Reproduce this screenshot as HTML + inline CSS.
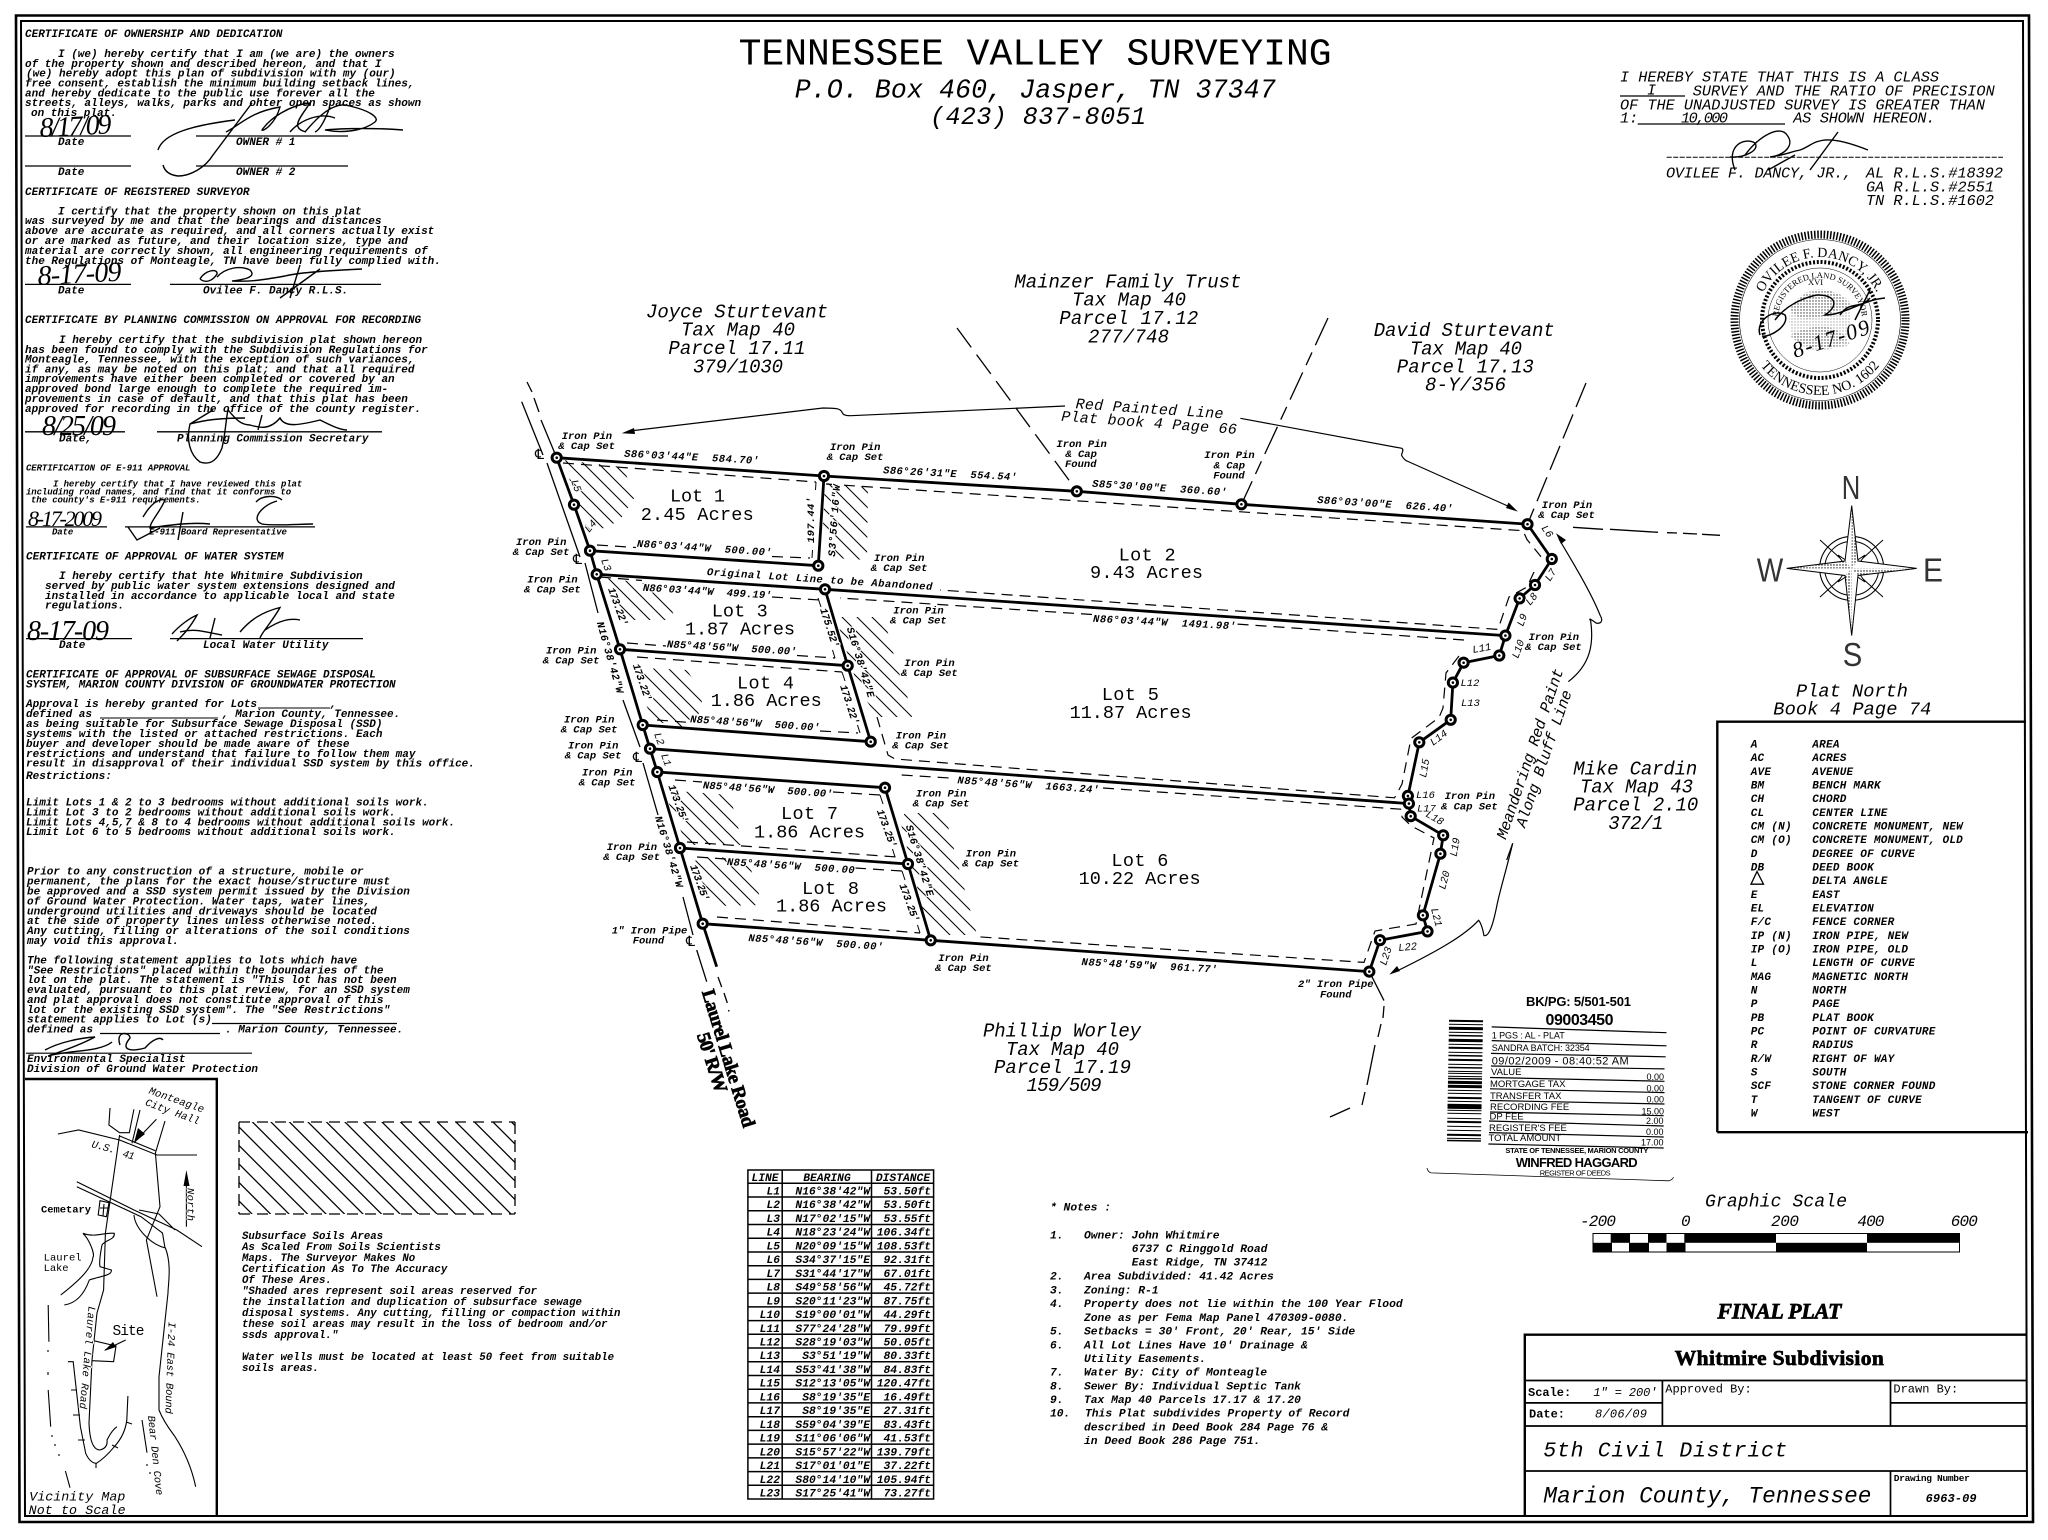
<!DOCTYPE html>
<html lang="en"><head><meta charset="utf-8"><title>Whitmire Subdivision Final Plat</title>
<style>
html,body{margin:0;padding:0;background:#fff}
svg{display:block}
text{font-family:"Liberation Mono","DejaVu Sans Mono",monospace;fill:#000;white-space:pre}
.m{font-size:11px;font-style:italic;font-weight:bold}
.s{font-size:9px;font-style:italic;font-weight:bold;letter-spacing:-.1px}
.b{font-size:10.5px;font-style:italic;font-weight:bold;paint-order:stroke;stroke:#fff;stroke-width:2.4px;stroke-linejoin:round}
.p{font-size:10.5px;font-style:italic;font-weight:bold}
.t{font-size:11.3px;font-style:italic;font-weight:bold}
.lot{font-size:18.5px}
.par{font-size:19px;font-style:italic}
.l{font-size:10.5px;font-weight:normal;font-style:italic;paint-order:stroke;stroke:#fff;stroke-width:2px;stroke-linejoin:round}
.cert{font-size:15.2px;font-style:italic}
.leg{font-size:11px;font-style:italic;font-weight:bold;letter-spacing:.25px}
.hand{font-family:"Liberation Serif",serif;font-style:italic;font-size:28px}
.sans{font-family:"Liberation Sans",sans-serif}
.ser{font-family:"Liberation Serif",serif;font-weight:bold}
.hv{stroke:#000;stroke-width:.7px}
.f{fill:none;stroke:#000}
</style></head><body>
<svg xmlns="http://www.w3.org/2000/svg" width="2048" height="1540" viewBox="0 0 2048 1540">
<defs>
<pattern id="h1" patternUnits="userSpaceOnUse" width="15" height="15"><path d="M0 0L15 15M-4 11L4 19M11 -4L19 4" stroke="#000" stroke-width="1"/></pattern>
<pattern id="h2" patternUnits="userSpaceOnUse" width="18.5" height="18.5"><path d="M0 0L18.5 18.5M-4 14.5L4 22.5M14.5 -4L22.5 4" stroke="#000" stroke-width="1.3"/></pattern>
<pattern id="st" patternUnits="userSpaceOnUse" width="3" height="3"><circle cx="1" cy="1" r=".7" fill="#000"/></pattern>
<path id="arcT" d="M1757 320A63 63 0 0 1 1883 320"/>
<path id="arcB" d="M1745 320A75 75 0 0 0 1895 320"/>
<path id="arcM" d="M1778 320A42 42 0 0 1 1862 320"/>
</defs>
<rect width="2048" height="1540" fill="#fff"/>

<!-- border -->
<path d="M16 15.5H2029L2033 1522H19.5Z" class="f" stroke-width="2.6"/>
<path d="M21 21H2023L2027 1516H25Z" class="f" stroke-width="2"/>

<!-- left certificates -->
<text class="m" x="25" y="37">CERTIFICATE OF OWNERSHIP AND DEDICATION</text>
<text class="m" x="58" y="57">I (we) hereby certify that I am (we are) the owners</text>
<text class="m" x="25" y="67">of the property shown and described hereon, and that I</text>
<text class="m" x="26" y="76.5">(we) hereby adopt this plan of subdivision with my (our)</text>
<text class="m" x="25" y="86.4">free consent, establish the minimum building setback lines,</text>
<text class="m" x="25" y="96.4">and hereby dedicate to the public use forever all the</text>
<text class="m" x="25" y="106">streets, alleys, walks, parks and ohter open spaces as shown</text>
<text class="m" x="31" y="116">on this plat.</text>
<path d="M25 136H131M196 136H348M25 166H131M196 166H348" class="f" stroke-width="1.3"/>
<text class="m" x="58" y="145">Date</text><text class="m" x="236" y="145">OWNER # 1</text>
<text class="m" x="58" y="175">Date</text><text class="m" x="236" y="175">OWNER # 2</text>
<text class="m" x="25" y="195">CERTIFICATE OF REGISTERED SURVEYOR</text>
<text class="m" x="58" y="214.5">I certify that the property shown on this plat</text>
<text class="m" x="25" y="224.2">was surveyed by me and that the bearings and distances</text>
<text class="m" x="25" y="234.2">above are accurate as required, and all corners actually exist</text>
<text class="m" x="25" y="244.1">or are marked as future, and their location size, type and</text>
<text class="m" x="25" y="254">material are correctly shown, all engineering requirements of</text>
<text class="m" x="25" y="263.8">the Regulations of Monteagle, TN have been fully complied with.</text>
<path d="M25 284.4H131M170 284.4H381" class="f" stroke-width="1.3"/>
<text class="m" x="58" y="293.4">Date</text><text class="m" x="203" y="293.4">Ovilee F. Dancy R.L.S.</text>
<text class="m" x="25" y="323">CERTIFICATE BY PLANNING COMMISSION ON APPROVAL FOR RECORDING</text>
<text class="m" x="59" y="343">I hereby certify that the subdivision plat shown hereon</text>
<text class="m" x="25" y="353">has been found to comply with the Subdivision Regulations for</text>
<text class="m" x="25" y="362.6">Monteagle, Tennessee, with the exception of such variances,</text>
<text class="m" x="25" y="372.6">if any, as may be noted on this plat; and that all required</text>
<text class="m" x="25" y="382.2">improvements have either been completed or covered by an</text>
<text class="m" x="25" y="392.2">approved bond large enough to complete the required im-</text>
<text class="m" x="25" y="402.2">provements in case of default, and that this plat has been</text>
<text class="m" x="25" y="411.8">approved for recording in the office of the county register.</text>
<path d="M25 431.8H125M157 431.8H382" class="f" stroke-width="1.3"/>
<text class="m" x="59" y="441.5">Date,</text><text class="m" x="177" y="441.5">Planning Commission Secretary</text>
<text class="s" x="26" y="470.7">CERTIFICATION OF E-911 APPROVAL</text>
<text class="s" x="53" y="486.6">I hereby certify that I have reviewed this plat</text>
<text class="s" x="26" y="494.5">including road names, and find that it conforms to</text>
<text class="s" x="31" y="502.4">the county's E-911 requirements.</text>
<path d="M26 526.9H107M125 526.9H315" class="f" stroke-width="1.3"/>
<text class="s" x="52" y="534.4">Date</text><text class="s" x="149" y="534.4">E-911 Board Representative</text>
<text class="m" x="26" y="559.3">CERTIFICATE OF APPROVAL OF WATER SYSTEM</text>
<text class="m" x="59" y="578.9">I hereby certify that hte Whitmire Subdivision</text>
<text class="m" x="45" y="588.9">served by public water system extensions designed and</text>
<text class="m" x="45" y="598.9">installed in accordance to applicable local and state</text>
<text class="m" x="45" y="608.6">regulations.</text>
<path d="M26 638.6H132M170 638.6H363" class="f" stroke-width="1.3"/>
<text class="m" x="59" y="647.9">Date</text><text class="m" x="203" y="647.9">Local Water Utility</text>
<text class="m" x="26" y="677.5">CERTIFICATE OF APPROVAL OF SUBSURFACE SEWAGE DISPOSAL</text>
<text class="m" x="26" y="687.5">SYSTEM, MARION COUNTY DIVISION OF GROUNDWATER PROTECTION</text>
<text class="m" x="26" y="707.1">Approval is hereby granted for Lots</text>
<path d="M258 708H330M100 718H218" class="f" stroke-width="1.1"/>
<text class="m" x="330" y="707.1">,</text>
<text class="m" x="26" y="717.1">defined as</text><text class="m" x="222" y="717.1">, Marion County, Tennessee.</text>
<text class="m" x="26" y="727.1">as being suitable for Subsurface Sewage Disposal (SSD)</text>
<text class="m" x="26" y="736.8">systems with the listed or attached restrictions. Each</text>
<text class="m" x="26" y="746.8">buyer and developer should be made aware of these</text>
<text class="m" x="26" y="756.8">restrictions and understand that failure to follow them may</text>
<text class="m" x="26" y="766.4">result in disapproval of their individual SSD system by this office.</text>
<text class="m" x="26" y="778.9">Restrictions:</text>
<text class="m" x="26" y="805.7">Limit Lots 1 &amp; 2 to 3 bedrooms without additional soils work.</text>
<text class="m" x="26" y="815.4">Limit Lot 3 to 2 bedrooms without additional soils work.</text>
<text class="m" x="26" y="825.4">Limit Lots 4,5,7 &amp; 8 to 4 bedrooms without additional soils work.</text>
<text class="m" x="26" y="835">Limit Lot 6 to 5 bedrooms without additional soils work.</text>
<text class="m" x="27" y="874.6">Prior to any construction of a structure, mobile or</text>
<text class="m" x="27" y="884.6">permanent, the plans for the exact house/structure must</text>
<text class="m" x="27" y="894.6">be approved and a SSD system permit issued by the Division</text>
<text class="m" x="27" y="904.3">of Ground Water Protection. Water taps, water lines,</text>
<text class="m" x="27" y="914.3">underground utilities and driveways should be located</text>
<text class="m" x="27" y="923.9">at the side of property lines unless otherwise noted.</text>
<text class="m" x="27" y="933.9">Any cutting, filling or alterations of the soil conditions</text>
<text class="m" x="27" y="943.9">may void this approval.</text>
<text class="m" x="27" y="963.6">The following statement applies to lots which have</text>
<text class="m" x="27" y="973.6">"See Restrictions" placed within the boundaries of the</text>
<text class="m" x="27" y="983.2">lot on the plat. The statement is "This lot has not been</text>
<text class="m" x="27" y="993.2">evaluated, pursuant to this plat review, for an SSD system</text>
<text class="m" x="27" y="1002.9">and plat approval does not constitute approval of this</text>
<text class="m" x="27" y="1012.9">lot or the existing SSD system". The "See Restrictions"</text>
<text class="m" x="27" y="1022.5">statement applies to Lot (s)</text>
<path d="M212 1023.5H397M100 1033.5H220M26 1053.2H252" class="f" stroke-width="1.2"/>
<text class="m" x="27" y="1032.5">defined as</text>
<text class="m" x="225" y="1032.5">. Marion County, Tennessee.</text>
<text class="m" x="27" y="1061.8">Environmental Specialist</text>
<text class="m" x="27" y="1071.8">Division of Ground Water Protection</text>

<!-- handwritten dates -->
<text class="hand" transform="translate(40 137) rotate(-3)" textLength="72">8/17/09</text>
<text class="hand" transform="translate(38 285) rotate(-3)" textLength="84">8-17-09</text>
<text class="hand" transform="translate(42 435)" textLength="74">8/25/09</text>
<text class="hand" x="28" y="526" style="font-size:22px" textLength="74">8-17-2009</text>
<text class="hand" x="27" y="640" textLength="82">8-17-09</text>

<!-- signatures -->
<g class="f" stroke-width="1.4" fill="none">
<path d="M158 150C163 133 195 125 235 120M252 103L213 155C205 168 190 176 178 176C170 175 165 172 163 165M226 132C240 125 250 112 280 107C275 125 262 132 262 130C270 118 290 105 310 103C300 118 290 128 306 132M305 132C315 120 330 104 345 105C370 110 380 118 375 122C362 132 340 133 325 130C345 128 380 128 403 130M330 107C325 120 320 130 315 132M290 132C300 120 320 112 335 118"/>
<path d="M200 279C205 270 218 268 217 274C212 282 205 283 200 279M217 277C225 268 240 265 250 270C258 278 240 280 232 281C250 282 262 280 285 276C300 272 340 270 362 269M320 269L280 298M300 265L290 298"/>
<path d="M213 410L190 424C186 440 190 455 200 462C212 466 218 458 222 448C226 430 226 418 228 410C235 418 240 425 250 425C260 428 270 430 280 418C285 428 300 425 320 420C330 425 340 430 347 430M190 424C205 420 220 418 245 418M262 415L258 430"/>
<path d="M143 517C150 505 158 498 165 500C160 512 150 522 150 528C170 525 190 522 210 524M128 527L137 540L160 528M183 512L178 540M277 501C262 505 250 520 262 524C272 526 300 524 313 524M256 502C262 495 276 495 282 500"/>
<path d="M172 634C180 625 190 618 197 615C190 628 182 636 177 641M180 632C195 628 205 632 222 635M215 618L210 638M240 632C250 620 262 612 280 607.5C272 622 262 632 260 638M265 630C280 620 290 618 300 620"/>
<path d="M45 1050C60 1042 80 1038 95 1037C80 1045 60 1052 48 1056M48 1056C70 1050 100 1052 112 1042M120 1045C115 1030 130 1032 130 1038C120 1050 130 1052 145 1048C152 1040 160 1036 163 1040"/>
</g>

<!-- vicinity map -->
<path d="M25 1079H216.8V1516" class="f" stroke-width="2.4"/>
<g class="f" stroke-width="1.1" fill="none">
<path d="M110 1108L108.9 1125L119.6 1132.7H129.3L133.9 1109.3M140 1110L132 1143.3"/>
<path d="M57.9 1134L78.6 1130L119.6 1140L157 1155H197M119.6 1136L155.4 1150.7"/>
<path d="M119.6 1135L105.4 1233L103.6 1290L97 1313L92 1360L89 1423Q90 1450 100 1450Q108 1448 107 1440Q112 1430 117 1426.7"/>
<path d="M165 1121L155.4 1153L160 1206.7L146.4 1240L157 1296.7"/>
<path d="M134 1215C135 1228 150 1244 165.4 1248C172 1265 168 1285 168 1293L159 1376.7V1410C165 1425 175 1436 175 1436.7Q190 1460 195.7 1486.7"/>
<path d="M76.8 1181.7L134 1210L176.8 1230L202 1246.7M76.8 1186.7L141 1216.7L162.5 1233L165 1248M139 1210L159 1214L175 1230"/>
<path d="M82.9 1233.3C90 1240 95 1255 93 1257C92 1268 80 1280 60.7 1295M82.9 1233.3C95 1238 105 1232 114.3 1233.3C115 1240 105 1240 102 1245C100 1255 99 1262 100 1266.7L111.4 1270C112 1276 100 1276 89.3 1280C85 1292 78 1303 64.3 1305"/>
<path d="M93.6 1340.7L116 1346L113.6 1361.7L92 1360.7M125.7 1340L105 1350"/>
<path d="M100 1200.7L109 1202.7L106.4 1216.7L98.2 1215ZM104 1204L103 1216M100 1208H108"/>
<path d="M67.9 1361.7H73.2L80.4 1426.7L85.7 1453.3Q90 1463 96.4 1463.3Q105 1458 114.3 1446.7Q125 1435 126.8 1420L127.9 1396"/>
<path d="M71 1390H77M73 1415H80M78 1440H85M96 1463V1468M112 1445L118 1448M126 1422L132 1424"/>
<path d="M48.2 1305L48.9 1341.7M48.2 1390L50.7 1426.7M65.4 1471L70 1487.7M142 1420L147 1452.7M156.4 1119.3L134 1142.7M186.4 1226.7V1175"/>
<path d="M48 1372V1374M48 1350V1352M48 1372V1375M52 1435V1437M55 1444V1446M59 1454V1456M147 1464V1466M150 1472V1474"/>
</g>
<path d="M134 1142.7L138 1128L145 1134ZM186.4 1170L183.5 1186H189.5ZM104 1351L113 1342L116 1347Z" fill="#000"/>
<text class="l" transform="translate(148.2 1093.3) rotate(19.5)" textLength="58">Monteagle</text>
<text class="l" transform="translate(144.6 1105) rotate(20)" textLength="57">City Hall</text>
<text class="l" transform="translate(91 1147) rotate(15)" textLength="24">U.S.</text>
<text class="l" transform="translate(122 1156.5) rotate(15)" textLength="12">41</text>
<text class="l" transform="translate(187.5 1188) rotate(90)" textLength="33">North</text>
<text class="l" x="41" y="1212.3" textLength="50" style="font-style:normal;font-weight:bold">Cemetary</text>
<text class="l" x="43.6" y="1260.7" textLength="38" style="font-style:normal">Laurel</text>
<text class="l" x="43.6" y="1271" textLength="25" style="font-style:normal">Lake</text>
<text x="112.5" y="1335" style="font-size:14.5px" textLength="32">Site</text>
<text class="l" transform="translate(88.6 1306) rotate(95)" textLength="103">Laurel Lake Road</text>
<text class="l" transform="translate(168.6 1321.7) rotate(92)" textLength="92">I-24 East Bound</text>
<text class="l" transform="translate(148 1416) rotate(84)" textLength="80">Bear Den Cove</text>
<text x="29.3" y="1500.7" style="font-size:13.3px;font-style:italic" textLength="96">Vicinity Map</text>
<text x="28.6" y="1514" style="font-size:13.3px;font-style:italic" textLength="97">Not to Scale</text>

<!-- hatch legend -->
<rect x="239" y="1122" width="276" height="92" fill="url(#h2)"/>
<path d="M239 1122H515M239 1214H515" class="f" stroke-width="1.3" stroke-dasharray="11 7"/>
<path d="M239 1122V1214M515 1122V1214" class="f" stroke-width="1.3" stroke-dasharray="12 6"/>
<g>
<text class="m" style="font-size:10.7px" x="242" y="1239">Subsurface Soils Areas</text>
<text class="m" style="font-size:10.7px" x="242" y="1250">As Scaled From Soils Scientists</text>
<text class="m" style="font-size:10.7px" x="242" y="1261">Maps. The Surveyor Makes No</text>
<text class="m" style="font-size:10.7px" x="242" y="1272">Certification As To The Accuracy</text>
<text class="m" style="font-size:10.7px" x="242" y="1283">Of These Ares.</text>
<text class="m" style="font-size:10.7px" x="242" y="1294">"Shaded ares represent soil areas reserved for</text>
<text class="m" style="font-size:10.7px" x="242" y="1305">the installation and duplication of subsurface sewage</text>
<text class="m" style="font-size:10.7px" x="242" y="1316">disposal systems. Any cutting, filling or compaction within</text>
<text class="m" style="font-size:10.7px" x="242" y="1327">these soil areas may result in the loss of bedroom and/or</text>
<text class="m" style="font-size:10.7px" x="242" y="1338">ssds approval."</text>
<text class="m" style="font-size:10.7px" x="242" y="1360">Water wells must be located at least 50 feet from suitable</text>
<text class="m" style="font-size:10.7px" x="242" y="1371">soils areas.</text>
</g>

<!-- title text -->
<text x="738.6" y="64.3" style="font-size:38px" textLength="593">TENNESSEE VALLEY SURVEYING</text>
<text x="794.7" y="97.7" style="font-size:26.5px;font-style:italic" textLength="481">P.O. Box 460, Jasper, TN 37347</text>
<text x="930" y="124" style="font-size:25px;font-style:italic" textLength="216">(423) 837-8051</text>
<text class="par" x="1014.4" y="287.3" textLength="227">Mainzer Family Trust</text>
<text class="par" x="1072" y="305.7" textLength="114">Tax Map 40</text>
<text class="par" x="1059.3" y="324" textLength="139">Parcel 17.12</text>
<text class="par" x="1088" y="342.3" textLength="81">277/748</text>
<text class="par" x="646" y="317.3" textLength="182">Joyce Sturtevant</text>
<text class="par" x="681" y="335.7" textLength="114">Tax Map 40</text>
<text class="par" x="668.4" y="354" textLength="137">Parcel 17.11</text>
<text class="par" x="693" y="372.3" textLength="90">379/1030</text>
<text class="par" x="1373.7" y="336" textLength="181">David Sturtevant</text>
<text class="par" x="1410" y="354.7" textLength="112">Tax Map 40</text>
<text class="par" x="1396.8" y="372.7" textLength="137">Parcel 17.13</text>
<text class="par" x="1425" y="390.7" textLength="81">8-Y/356</text>
<text class="par" x="983" y="1036.5" textLength="158">Phillip Worley</text>
<text class="par" x="1006" y="1055" textLength="113">Tax Map 40</text>
<text class="par" x="994" y="1073" textLength="137">Parcel 17.19</text>
<text class="par" x="1026.5" y="1091" textLength="75">159/509</text>
<text class="par" x="1573.3" y="774.3" textLength="124">Mike Cardin</text>
<text class="par" x="1580" y="792.7" textLength="113">Tax Map 43</text>
<text class="par" x="1573.3" y="810.7" textLength="125">Parcel 2.10</text>
<text class="par" x="1608.3" y="829" textLength="55">372/1</text>
<text style="font-size:15px;font-style:italic" transform="translate(1075.4 408.3) rotate(3.9)" textLength="148">Red Painted Line</text>
<text style="font-size:15px;font-style:italic" transform="translate(1061 420.7) rotate(4.3)" textLength="176">Plat book 4 Page 66</text>
<text style="font-size:15.5px;font-style:italic" transform="translate(1505.7 840) rotate(-71.2)" textLength="179">Meandering Red Paint</text>
<text style="font-size:15.5px;font-style:italic" transform="translate(1525 828.3) rotate(-71)" textLength="144">Along Bluff Line</text>

<!-- hatch areas -->
<g fill="url(#h1)" stroke="none">
<path d="M563 460L623 467L635 497L620 520L605 528L587 530L572 487Z"/>
<path d="M825 483L868 487L867 560L833 558L823 527Z"/>
<path d="M604 578L643 583L670 603L675 620L630 620L612 600Z"/>
<path d="M835 617L882 617L888 633L897 667L907 695L912 717H877L858 687L840 630Z"/>
<path d="M643 668L687 670L695 683L702 702L697 720L680 728L653 720L638 687Z"/>
<path d="M663 790L730 795L738 827L743 845H687Z"/>
<path d="M905 813H937L947 822L962 880L977 935H943L923 910L900 820Z"/>
<path d="M697 857L747 858L757 887L762 905L717 906L693 867Z"/>
</g>

<!-- setback dashed -->
<g class="f" stroke-width="1.2" stroke-dasharray="11 7" fill="none">
<path d="M563 463L816 482"/>
<path d="M597 545L636 547.5M772 556.5L810 558"/>
<path d="M826 484L1523 530.7L1527 539.5L1541 556.7"/>
<path d="M1534 572L1527 587L1509 597L1498 629.4L940 590"/>
<path d="M1464 640L1236 624M1092 614.5L840 598"/>
<path d="M1459 656L1446 673L1443 708L1439 717.5L1411 738.5L1402 784L1394.6 797.8L895 759L888 755L877 717"/>
<path d="M600 577L642 580.5M772 597L820 600"/>
<path d="M627 643L666 646M797 655.5L835 658"/>
<path d="M637 657L842 672"/><path d="M657 720L690 722.5M820 731L858 733"/>
<path d="M675 780L702 782M833 792L880 795"/><path d="M687 842L897 857"/>
<path d="M697 857L726 859M855 868L902 871"/><path d="M717 917L920 933"/>
<path d="M901.7 775L950 778M1103 788L1401.8 809.3L1402 817L1411 825.8L1434 838L1416 924L1375 931L1364 962.4L976.7 936.7"/>
</g>
<path d="M816 482L815.5 490M812 558L812.5 550M818 598L821 607M835 658L832.5 650M842 672L845 681M860 733L857.5 725M880 795L883 804M895 857L892.5 849M902 871L905 880M920 933L917.5 925" class="f" stroke-width="1"/>

<!-- street + adjoiners -->
<g class="f" stroke-width="1.3" fill="none">
<path d="M521.7 401.7L543 455M547 463L580 557M585 563L598 613M623 700L640 747M643 763L658 815M683 897L693 935M696.7 950L706.7 981.7"/>
<path d="M527 382L532 392M534 398L539 412M541 420L556.7 457.7M718 977L721.7 987M724 993L727.3 1003M728.5 1010L729 1011.5"/>
<path d="M957 328L1077 491" stroke-dasharray="24 9"/>
<path d="M1328 318L1241.4 504.3" stroke-dasharray="30 8 14 8"/>
<path d="M1586 383L1527.5 524.2" stroke-dasharray="26 8"/>
<path d="M1573 527.3L1603 529.3M1610 529.3L1658 532.3M1667 532.7L1677 533M1683 533.3L1697 534M1702 534.3L1720 535.3"/>
<path d="M1369.3 971.6L1384 1000.6M1384 1006L1383 1018M1381 1024L1378 1037M1375 1045L1367 1085M1365 1092L1362 1105M1350 1108L1330 1117"/>
</g>

<!-- arrows -->
<g class="f" stroke-width="1.2" fill="none">
<path d="M630 431L823 408C838 408 840 409 841.8 411.7C843 416 848 415.7 851 415.7L1065 406"/>
<path d="M1240.4 418.3L1401.8 448.3C1405 450 1400 455 1402 456C1404 460 1407 461 1407 461L1510 507"/>
<path d="M1559 539C1570 558 1590 590 1600 615C1604 622 1600 624 1596 623C1592 620 1588 617 1590.7 621C1594 645 1590 665 1568.3 681.7"/>
<path d="M1512.7 843.3C1505 875 1500 890 1497 905C1493 925 1489 937 1484 935.6C1482 925 1480 922 1478.6 920.3C1465 935 1440 950 1397 971"/>
<path d="M1506.7 860L1512.7 843.3"/>
</g>
<path d="M621.7 433.3L634 428L635 434ZM1517.9 511.6L1506 508L1508.5 502.5ZM1556 533.3L1566 540L1561 544ZM1389.3 974.6L1397 966L1400 971Z" fill="#000"/>

<!-- heavy lines -->
<g class="f" stroke-width="2.8" fill="none" stroke-linejoin="round">
<path d="M556.7 457.7L824 476L1076.8 491.3L1241.4 504.3L1527.5 524.2"/>
<path d="M556.7 457.7L574 504.7L590 550.7L596.7 574.3L620 649.3L642.7 725L650 748.7L657.3 772L680 848L702.7 923.7L716.7 966.7"/>
<path d="M824 476L818.3 565.7M590 550.7L818.3 565.7M596.7 574.3L825 589.3L1505.4 635.6M825 589.3L847.7 665.7L870.7 741.7M620 649.3L847.7 665.7M642.7 725L870.7 741.7"/>
<path d="M650 748.7L1408.9 803.6M657.3 772L885 787.7L908 864L930.7 940.3M680 848L908 864M702.7 923.7L930.7 940.3L1369.3 971.6"/>
<path d="M1527.5 524.2L1551.8 559L1535 585L1519.6 598.4L1505.4 635.6L1499.3 655.5L1463.6 662.7L1452.9 682.6L1450.7 719.8L1419.3 742.3L1407.9 795.9L1408.9 803.6L1410.7 816.2L1443.2 835.3L1440.4 853.7L1422.9 915.3L1427.5 931.4L1380 940.2L1369.3 971.6"/>
</g>

<!-- bearings (drawn under nodes) -->
<g>
<text class="b" transform="translate(624 456.7) rotate(3)" textLength="135">S86°03'44"E  584.70'</text>
<text class="b" transform="translate(883 473.3) rotate(3)" textLength="134">S86°26'31"E  554.54'</text>
<text class="b" transform="translate(1092 486.7) rotate(3.7)" textLength="135">S85°30'00"E  360.60'</text>
<text class="b" transform="translate(1317 503) rotate(3.7)" textLength="136">S86°03'00"E  626.40'</text>
<text class="b" transform="translate(636.7 546.7) rotate(3.8)" textLength="135">N86°03'44"W  500.00'</text>
<text class="b" transform="translate(642.7 590.7) rotate(3.5)" textLength="129">N86°03'44"W  499.19'</text>
<text class="b" transform="translate(666.7 647.3) rotate(3.3)" textLength="130">N85°48'56"W  500.00'</text>
<text class="b" transform="translate(690 722.3) rotate(3.7)" textLength="130">N85°48'56"W  500.00'</text>
<text class="b" transform="translate(702.7 788.3) rotate(3.9)" textLength="130">N85°48'56"W  500.00'</text>
<text class="b" transform="translate(726.7 865) rotate(3.7)" textLength="128">N85°48'56"W  500.00</text>
<text class="b" transform="translate(748.3 941) rotate(3.8)" textLength="135">N85°48'56"W  500.00'</text>
<text class="b" transform="translate(1081.4 965) rotate(3.2)" textLength="136">N85°48'59"W  961.77'</text>
<text class="b" transform="translate(1092.9 621.8) rotate(3)" textLength="143">N86°03'44"W  1491.98'</text>
<text class="b" transform="translate(957.3 783.3) rotate(3.9)" textLength="142">N85°48'56"W  1663.24'</text>
<text class="b" transform="translate(706.7 575) rotate(3.8)" textLength="226">Original Lot Line to be Abandoned</text>
<text class="b" transform="translate(814 543) rotate(-90)" textLength="46">197.44'</text>
<text class="b" transform="translate(835 556.7) rotate(-86)" textLength="72">S3°56'16"W</text>
<text class="b" transform="translate(820 609.3) rotate(72)" textLength="41">175.52'</text>
<text class="b" transform="translate(846.7 628.3) rotate(73)" textLength="73">S16°38'42"E</text>
<text class="b" transform="translate(840 686) rotate(72)" textLength="41">173.22'</text>
<text class="b" transform="translate(608 589) rotate(70)" textLength="40">173.22'</text>
<text class="b" transform="translate(632.7 665) rotate(71)" textLength="39">173.22'</text>
<text class="b" transform="translate(596.7 622.7) rotate(74)" textLength="74">N16°38'42"W</text>
<text class="b" transform="translate(655 817.3) rotate(73)" textLength="74">N16°38'42"W</text>
<text class="b" transform="translate(668.3 786) rotate(70)" textLength="40">173.25'</text>
<text class="b" transform="translate(690 866) rotate(70)" textLength="38">173.25'</text>
<text class="b" transform="translate(876.7 810.7) rotate(70)" textLength="40">173.25'</text>
<text class="b" transform="translate(899.3 885) rotate(70)" textLength="40">173.25'</text>
<text class="b" transform="translate(905.7 826) rotate(73)" textLength="74">S16°38'42"E</text>
</g>

<!-- nodes -->
<g fill="#fff" stroke="#000" stroke-width="3">
<circle cx="556.7" cy="457.7" r="4.6"/><circle cx="824" cy="476" r="4.6"/><circle cx="818.3" cy="565.7" r="4.6"/><circle cx="590" cy="550.7" r="4.6"/><circle cx="574" cy="504.7" r="4.6"/><circle cx="596.7" cy="574.3" r="4.6"/><circle cx="825" cy="589.3" r="4.6"/><circle cx="620" cy="649.3" r="4.6"/><circle cx="847.7" cy="665.7" r="4.6"/><circle cx="870.7" cy="741.7" r="4.6"/><circle cx="642.7" cy="725" r="4.6"/><circle cx="650" cy="748.7" r="4.6"/><circle cx="657.3" cy="772" r="4.6"/><circle cx="885" cy="787.7" r="4.6"/><circle cx="680" cy="848" r="4.6"/><circle cx="908" cy="864" r="4.6"/><circle cx="702.7" cy="923.7" r="4.6"/><circle cx="930.7" cy="940.3" r="4.6"/><circle cx="1076.8" cy="491.3" r="4.6"/><circle cx="1241.4" cy="504.3" r="4.6"/><circle cx="1527.5" cy="524.2" r="4.6"/><circle cx="1551.8" cy="559" r="4.6"/><circle cx="1535" cy="585" r="4.6"/><circle cx="1519.6" cy="598.4" r="4.6"/><circle cx="1505.4" cy="635.6" r="4.6"/><circle cx="1499.3" cy="655.5" r="4.6"/><circle cx="1463.6" cy="662.7" r="4.6"/><circle cx="1452.9" cy="682.6" r="4.6"/><circle cx="1450.7" cy="719.8" r="4.6"/><circle cx="1419.3" cy="742.3" r="4.6"/><circle cx="1407.9" cy="795.9" r="4.6"/><circle cx="1408.9" cy="803.6" r="4.6"/><circle cx="1410.7" cy="816.2" r="4.6"/><circle cx="1443.2" cy="835.3" r="4.6"/><circle cx="1440.4" cy="853.7" r="4.6"/><circle cx="1422.9" cy="915.3" r="4.6"/><circle cx="1427.5" cy="931.4" r="4.6"/><circle cx="1380" cy="940.2" r="4.6"/><circle cx="1369.3" cy="971.6" r="4.6"/>
</g>
<g fill="#000">
<circle cx="556.7" cy="457.7" r="1.3"/><circle cx="824" cy="476" r="1.3"/><circle cx="818.3" cy="565.7" r="1.3"/><circle cx="590" cy="550.7" r="1.3"/><circle cx="574" cy="504.7" r="1.3"/><circle cx="596.7" cy="574.3" r="1.3"/><circle cx="825" cy="589.3" r="1.3"/><circle cx="620" cy="649.3" r="1.3"/><circle cx="847.7" cy="665.7" r="1.3"/><circle cx="870.7" cy="741.7" r="1.3"/><circle cx="642.7" cy="725" r="1.3"/><circle cx="650" cy="748.7" r="1.3"/><circle cx="657.3" cy="772" r="1.3"/><circle cx="885" cy="787.7" r="1.3"/><circle cx="680" cy="848" r="1.3"/><circle cx="908" cy="864" r="1.3"/><circle cx="702.7" cy="923.7" r="1.3"/><circle cx="930.7" cy="940.3" r="1.3"/><circle cx="1076.8" cy="491.3" r="1.3"/><circle cx="1241.4" cy="504.3" r="1.3"/><circle cx="1527.5" cy="524.2" r="1.3"/><circle cx="1551.8" cy="559" r="1.3"/><circle cx="1535" cy="585" r="1.3"/><circle cx="1519.6" cy="598.4" r="1.3"/><circle cx="1505.4" cy="635.6" r="1.3"/><circle cx="1499.3" cy="655.5" r="1.3"/><circle cx="1463.6" cy="662.7" r="1.3"/><circle cx="1452.9" cy="682.6" r="1.3"/><circle cx="1450.7" cy="719.8" r="1.3"/><circle cx="1419.3" cy="742.3" r="1.3"/><circle cx="1407.9" cy="795.9" r="1.3"/><circle cx="1408.9" cy="803.6" r="1.3"/><circle cx="1410.7" cy="816.2" r="1.3"/><circle cx="1443.2" cy="835.3" r="1.3"/><circle cx="1440.4" cy="853.7" r="1.3"/><circle cx="1422.9" cy="915.3" r="1.3"/><circle cx="1427.5" cy="931.4" r="1.3"/><circle cx="1380" cy="940.2" r="1.3"/><circle cx="1369.3" cy="971.6" r="1.3"/>
</g>

<!-- centerline marks -->
<g>
<text style="font-family:'DejaVu Sans',sans-serif;font-size:14px" x="535" y="459">℄</text>
<text style="font-family:'DejaVu Sans',sans-serif;font-size:14px" x="573" y="564">℄</text>
<text style="font-family:'DejaVu Sans',sans-serif;font-size:14px" x="633" y="762">℄</text>
<text style="font-family:'DejaVu Sans',sans-serif;font-size:14px" x="686" y="946">℄</text>
</g>

<!-- lot labels -->
<text class="lot" x="670" y="501.7" textLength="55">Lot 1</text><text class="lot" x="640.7" y="520" textLength="113">2.45 Acres</text>
<text class="lot" x="711.7" y="616.7" textLength="56">Lot 3</text><text class="lot" x="685" y="634.3" textLength="110">1.87 Acres</text>
<text class="lot" x="737" y="688.3" textLength="57">Lot 4</text><text class="lot" x="710.7" y="706" textLength="111">1.86 Acres</text>
<text class="lot" x="781" y="819" textLength="57">Lot 7</text><text class="lot" x="754" y="837.3" textLength="111">1.86 Acres</text>
<text class="lot" x="802" y="894" textLength="57">Lot 8</text><text class="lot" x="776" y="911.7" textLength="111">1.86 Acres</text>
<text class="lot" x="1118.6" y="560.6" textLength="57">Lot 2</text><text class="lot" x="1090" y="577.8" textLength="113">9.43 Acres</text>
<text class="lot" x="1101.8" y="700" textLength="57">Lot 5</text><text class="lot" x="1069.6" y="717.8" textLength="122">11.87 Acres</text>
<text class="lot" x="1111.4" y="866" textLength="57">Lot 6</text><text class="lot" x="1078.6" y="884" textLength="122">10.22 Acres</text>

<!-- L labels -->
<g>
<text class="l" transform="translate(571 481) rotate(70)">L5</text>
<text class="l" transform="translate(589 533) rotate(-50)">L4</text>
<text class="l" transform="translate(601 560) rotate(70)">L3</text>
<text class="l" transform="translate(654 734) rotate(70)">L2</text>
<text class="l" transform="translate(661 755) rotate(70)">L1</text>
<text class="l" transform="translate(1541 528) rotate(55)">L6</text>
<text class="l" transform="translate(1550 582) rotate(-58)">L7</text>
<text class="l" transform="translate(1530 606) rotate(-50)">L8</text>
<text class="l" transform="translate(1523 627) rotate(-70)">L9</text>
<text class="l" transform="translate(1518 659) rotate(-70)">L10</text>
<text class="l" transform="translate(1473 653) rotate(-10)">L11</text>
<text class="l" x="1460.5" y="686">L12</text>
<text class="l" x="1461" y="706">L13</text>
<text class="l" transform="translate(1433 746) rotate(-37)">L14</text>
<text class="l" transform="translate(1426 778) rotate(-80)">L15</text>
<text class="l" x="1416" y="798">L16</text>
<text class="l" x="1417" y="811.5">L17</text>
<text class="l" transform="translate(1425 816) rotate(30)">L18</text>
<text class="l" transform="translate(1456.5 857) rotate(-80)">L19</text>
<text class="l" transform="translate(1445 890) rotate(-75)">L20</text>
<text class="l" transform="translate(1431 909) rotate(75)">L21</text>
<text class="l" transform="translate(1398.5 951) rotate(-5)">L22</text>
<text class="l" transform="translate(1386 966) rotate(-72)">L23</text>
</g>

<!-- pin labels -->
<g>
<text class="p" x="561.7" y="439">Iron Pin</text><text class="p" x="558.3" y="449">&amp; Cap Set</text>
<text class="p" x="830" y="450">Iron Pin</text><text class="p" x="826.7" y="460">&amp; Cap Set</text>
<text class="p" x="874" y="561">Iron Pin</text><text class="p" x="870.7" y="571">&amp; Cap Set</text>
<text class="p" x="516" y="545">Iron Pin</text><text class="p" x="512.7" y="555">&amp; Cap Set</text>
<text class="p" x="527.3" y="582.7">Iron Pin</text><text class="p" x="524" y="592.7">&amp; Cap Set</text>
<text class="p" x="893.3" y="613.3">Iron Pin</text><text class="p" x="890" y="623.3">&amp; Cap Set</text>
<text class="p" x="546" y="653.3">Iron Pin</text><text class="p" x="542.7" y="663.3">&amp; Cap Set</text>
<text class="p" x="904.3" y="666">Iron Pin</text><text class="p" x="901" y="676">&amp; Cap Set</text>
<text class="p" x="564" y="722.3">Iron Pin</text><text class="p" x="560.7" y="732.3">&amp; Cap Set</text>
<text class="p" x="895.7" y="738.7">Iron Pin</text><text class="p" x="892.3" y="748.7">&amp; Cap Set</text>
<text class="p" x="568" y="748.7">Iron Pin</text><text class="p" x="564.7" y="758.7">&amp; Cap Set</text>
<text class="p" x="582" y="775.7">Iron Pin</text><text class="p" x="578.7" y="785.7">&amp; Cap Set</text>
<text class="p" x="916" y="796.7">Iron Pin</text><text class="p" x="912.7" y="806.7">&amp; Cap Set</text>
<text class="p" x="606.7" y="850">Iron Pin</text><text class="p" x="603.3" y="860">&amp; Cap Set</text>
<text class="p" x="965.7" y="856.7">Iron Pin</text><text class="p" x="962.3" y="866.7">&amp; Cap Set</text>
<text class="p" x="938.3" y="961">Iron Pin</text><text class="p" x="935" y="971">&amp; Cap Set</text>
<text class="p" x="611.7" y="933.3">1" Iron Pipe</text><text class="p" x="632.7" y="943.3">Found</text>
<text class="p" x="1056.4" y="447">Iron Pin</text><text class="p" x="1065.4" y="456.8">&amp; Cap</text><text class="p" x="1065" y="467.2">Found</text>
<text class="p" x="1204.3" y="458">Iron Pin</text><text class="p" x="1213.6" y="468.7">&amp; Cap</text><text class="p" x="1213.2" y="478.3">Found</text>
<text class="p" x="1541.8" y="508">Iron Pin</text><text class="p" x="1538.2" y="518">&amp; Cap Set</text>
<text class="p" x="1528.6" y="640">Iron Pin</text><text class="p" x="1525" y="650">&amp; Cap Set</text>
<text class="p" x="1444.6" y="799">Iron Pin</text><text class="p" x="1441" y="809.3">&amp; Cap Set</text>
<text class="p" x="1298" y="987.2">2" Iron Pipe</text><text class="p" x="1320" y="997.6">Found</text>
</g>

<!-- road name -->
<text class="ser hv" style="font-size:19px" transform="translate(701.7 991.7) rotate(73)" textLength="143">Laurel Lake Road</text>
<text class="ser hv" style="font-size:19px" transform="translate(696.7 1035) rotate(72)" textLength="62">50' R/W</text>

<!-- top right cert -->
<text class="cert" x="1620" y="81.7" textLength="319">I HEREBY STATE THAT THIS IS A CLASS</text>
<text class="cert" x="1647" y="94.5">I</text><path d="M1620 96H1685M1637.7 124H1785" class="f" stroke-width="1.2"/>
<text class="cert" x="1692.7" y="95.7" textLength="302">SURVEY AND THE RATIO OF PRECISION</text>
<text class="cert" x="1620" y="109.3" textLength="365">OF THE UNADJUSTED SURVEY IS GREATER THAN</text>
<text class="cert" x="1620" y="122.7">1:</text><text class="cert" x="1681" y="122.7" textLength="47">10,000</text>
<text class="cert" x="1793.3" y="122.7" textLength="142">AS SHOWN HEREON.</text>
<path d="M1666.7 157.3H2003" class="f" stroke-width="1" stroke-dasharray="5 1.5"/>
<text class="cert" x="1666" y="177.7" textLength="186">OVILEE F. DANCY, JR.,</text>
<text class="cert" x="1866" y="177.7" textLength="137">AL R.L.S.#18392</text>
<text class="cert" x="1866" y="191.3" textLength="128">GA R.L.S.#2551</text>
<text class="cert" x="1866" y="205" textLength="128">TN R.L.S.#1602</text>
<path d="M1735 170C1725 145 1745 137 1755 143C1760 150 1745 158 1730 157M1745 155C1760 135 1780 125 1787 135C1795 145 1785 155 1770 157C1785 155 1790 152 1800 150C1815 145 1818 130 1868 150M1795 155L1768 170M1838 132L1810 170" class="f" stroke-width="1.4"/>

<!-- seal -->
<g>
<circle cx="1820" cy="320" r="85.5" class="f" stroke-width="8" stroke-dasharray="1.5 1.7"/>
<circle cx="1820" cy="320" r="80.5" class="f" stroke-width=".6"/>
<circle cx="1820" cy="320" r="58" class="f" stroke-width="4" stroke-dasharray="2 1.8"/>
<circle cx="1820" cy="320" r="52" class="f" stroke-width=".5"/>
<circle cx="1820" cy="320" r="31" fill="url(#st)" opacity=".35"/>
<path d="M1790 310C1800 285 1840 285 1852 305C1835 310 1805 330 1790 310ZM1790 335C1810 325 1840 320 1850 345C1830 350 1800 350 1790 335Z" fill="url(#st)" opacity=".6"/>
<text style="font-family:'Liberation Serif',serif;font-size:14px;text-anchor:middle"><textPath href="#arcT" startOffset="50%">OVILEE F. DANCY, JR.</textPath></text>
<text style="font-family:'Liberation Serif',serif;font-size:14px;text-anchor:middle"><textPath href="#arcB" startOffset="50%">TENNESSEE NO. 1602</textPath></text>
<text style="font-family:'Liberation Serif',serif;font-size:8.5px;text-anchor:middle"><textPath href="#arcM" startOffset="50%">REGISTERED LAND SURVEYOR</textPath></text>
<text x="1808" y="285" style="font-family:'Liberation Serif',serif;font-size:8.5px">XVI</text>
<path d="M1760 335C1755 320 1775 308 1785 315C1790 325 1770 338 1762 336M1775 320C1790 300 1815 295 1818 295C1835 295 1840 305 1825 315C1845 315 1862 300 1885 298M1840 315C1850 300 1860 310 1870 298M1855 320L1870 290" class="f" stroke-width="1.5"/>
<text class="hand" transform="translate(1795 358) rotate(-18)" style="font-size:22px" textLength="80">8-17-09</text>
</g>

<!-- compass -->
<g>
<text class="sans" x="1841.7" y="499" style="font-size:33px;fill:#333" textLength="18.5" lengthAdjust="spacingAndGlyphs">N</text>
<text class="sans" x="1756.7" y="581.4" style="font-size:33px;fill:#333" textLength="26.5" lengthAdjust="spacingAndGlyphs">W</text>
<text class="sans" x="1923" y="581.4" style="font-size:33px;fill:#333" textLength="20" lengthAdjust="spacingAndGlyphs">E</text>
<text class="sans" x="1842.7" y="666" style="font-size:33px;fill:#333" textLength="19.5" lengthAdjust="spacingAndGlyphs">S</text>
<circle cx="1851.7" cy="568.4" r="32" class="f" stroke-width="1.1"/>
<circle cx="1851.7" cy="568.4" r="27" class="f" stroke-width="1"/>
<path d="M1820 540L1883 597M1883 540L1820 597" class="f" stroke-width="1"/>
<path d="M1838 555L1851.7 564L1865 555L1856 568.4L1865 582L1851.7 573L1838 582L1847 568.4Z" fill="#fff" stroke="#000" stroke-width="1"/>
<path d="M1851.7 505.5L1858 561L1916.7 568.4L1858 575.5L1851.7 635.6L1845 575.5L1786.7 568.4L1845 561Z" fill="#fff" stroke="#000" stroke-width="1"/>
<path d="M1851.7 505.5L1858 561L1851.7 568.4ZM1916.7 568.4L1858 575.5L1851.7 568.4ZM1851.7 635.6L1845 575.5L1851.7 568.4ZM1786.7 568.4L1845 561L1851.7 568.4Z" fill="url(#st)"/>
</g>
<text x="1796" y="696.3" style="font-size:18.7px;font-style:italic" textLength="112">Plat North</text>
<text x="1773.3" y="714.6" style="font-size:18.7px;font-style:italic" textLength="158">Book 4 Page 74</text>

<!-- abbreviations -->
<path d="M1717.3 1132.2V721.7H2026M1717.3 1132.2H2028" class="f" stroke-width="2.4"/>
<g>
<text class="leg" x="1750.7" y="747.5">A</text><text class="leg" x="1812.3" y="747.5">AREA</text>
<text class="leg" x="1750.7" y="761.2">AC</text><text class="leg" x="1812.3" y="761.2">ACRES</text>
<text class="leg" x="1750.7" y="774.8">AVE</text><text class="leg" x="1812.3" y="774.8">AVENUE</text>
<text class="leg" x="1750.7" y="788.5">BM</text><text class="leg" x="1812.3" y="788.5">BENCH MARK</text>
<text class="leg" x="1750.7" y="802.2">CH</text><text class="leg" x="1812.3" y="802.2">CHORD</text>
<text class="leg" x="1750.7" y="815.8">CL</text><text class="leg" x="1812.3" y="815.8">CENTER LINE</text>
<text class="leg" x="1750.7" y="829.5">CM (N)</text><text class="leg" x="1812.3" y="829.5">CONCRETE MONUMENT, NEW</text>
<text class="leg" x="1750.7" y="843.2">CM (O)</text><text class="leg" x="1812.3" y="843.2">CONCRETE MONUMENT, OLD</text>
<text class="leg" x="1750.7" y="856.8">D</text><text class="leg" x="1812.3" y="856.8">DEGREE OF CURVE</text>
<text class="leg" x="1750.7" y="870.5">DB</text><text class="leg" x="1812.3" y="870.5">DEED BOOK</text>
<path d="M1751 884.2H1763.5L1757 871.5Z" class="f" stroke-width="1.3"/><text class="leg" x="1812.3" y="884.2">DELTA ANGLE</text>
<text class="leg" x="1750.7" y="897.8">E</text><text class="leg" x="1812.3" y="897.8">EAST</text>
<text class="leg" x="1750.7" y="911.5">EL</text><text class="leg" x="1812.3" y="911.5">ELEVATION</text>
<text class="leg" x="1750.7" y="925.2">F/C</text><text class="leg" x="1812.3" y="925.2">FENCE CORNER</text>
<text class="leg" x="1750.7" y="938.8">IP (N)</text><text class="leg" x="1812.3" y="938.8">IRON PIPE, NEW</text>
<text class="leg" x="1750.7" y="952.5">IP (O)</text><text class="leg" x="1812.3" y="952.5">IRON PIPE, OLD</text>
<text class="leg" x="1750.7" y="966.2">L</text><text class="leg" x="1812.3" y="966.2">LENGTH OF CURVE</text>
<text class="leg" x="1750.7" y="979.8">MAG</text><text class="leg" x="1812.3" y="979.8">MAGNETIC NORTH</text>
<text class="leg" x="1750.7" y="993.5">N</text><text class="leg" x="1812.3" y="993.5">NORTH</text>
<text class="leg" x="1750.7" y="1007.2">P</text><text class="leg" x="1812.3" y="1007.2">PAGE</text>
<text class="leg" x="1750.7" y="1020.8">PB</text><text class="leg" x="1812.3" y="1020.8">PLAT BOOK</text>
<text class="leg" x="1750.7" y="1034.5">PC</text><text class="leg" x="1812.3" y="1034.5">POINT OF CURVATURE</text>
<text class="leg" x="1750.7" y="1048.2">R</text><text class="leg" x="1812.3" y="1048.2">RADIUS</text>
<text class="leg" x="1750.7" y="1061.8">R/W</text><text class="leg" x="1812.3" y="1061.8">RIGHT OF WAY</text>
<text class="leg" x="1750.7" y="1075.5">S</text><text class="leg" x="1812.3" y="1075.5">SOUTH</text>
<text class="leg" x="1750.7" y="1089.2">SCF</text><text class="leg" x="1812.3" y="1089.2">STONE CORNER FOUND</text>
<text class="leg" x="1750.7" y="1102.8">T</text><text class="leg" x="1812.3" y="1102.8">TANGENT OF CURVE</text>
<text class="leg" x="1750.7" y="1116.5">W</text><text class="leg" x="1812.3" y="1116.5">WEST</text>
</g>

<!-- recording stamp -->
<g>
<text class="sans" x="1526" y="1006" style="font-size:13px;font-weight:bold" textLength="105">BK/PG: 5/501-501</text>
<text class="sans" x="1545.5" y="1024.8" style="font-size:16px;font-weight:bold" textLength="68">09003450</text>
<path d="M1491.7 1026.9L1666.5 1032.7M1491.7 1040.6L1666.5 1045.8M1491 1053.4L1665.7 1056.8M1491 1066L1664.5 1068.9M1490 1077.5L1664.5 1081.3M1490 1088.8L1664.5 1092.6M1490 1100.5L1664.5 1104M1490 1112L1663.7 1115.7M1489 1121L1663.7 1126M1489 1132.6L1663.7 1137M1488.4 1144L1663.7 1148" class="f" stroke-width="1.2"/>
<text class="sans" x="1491.7" y="1038.6" style="font-size:9px" textLength="73">1 PGS : AL - PLAT</text>
<text class="sans" x="1491.7" y="1051" style="font-size:9px" textLength="98">SANDRA BATCH: 32354</text>
<text class="sans" x="1491.7" y="1064.7" style="font-size:11px" textLength="137">09/02/2009 - 08:40:52 AM</text>
<text class="sans" x="1491" y="1075" style="font-size:9.5px">VALUE</text><text class="sans" x="1664" y="1079.9" style="font-size:9px;text-anchor:end">0.00</text>
<text class="sans" x="1490" y="1087.1" style="font-size:9.5px">MORTGAGE TAX</text><text class="sans" x="1664" y="1091.6" style="font-size:9px;text-anchor:end">0.00</text>
<text class="sans" x="1490" y="1098.8" style="font-size:9.5px">TRANSFER TAX</text><text class="sans" x="1664" y="1102.6" style="font-size:9px;text-anchor:end">0.00</text>
<text class="sans" x="1490" y="1110.2" style="font-size:9.5px">RECORDING FEE</text><text class="sans" x="1664" y="1114.3" style="font-size:9px;text-anchor:end">15.00</text>
<text class="sans" x="1489.5" y="1119.5" style="font-size:9.5px">DP FEE</text><text class="sans" x="1663.5" y="1124" style="font-size:9px;text-anchor:end">2.00</text>
<text class="sans" x="1489" y="1130.9" style="font-size:9.5px">REGISTER'S FEE</text><text class="sans" x="1663.5" y="1135" style="font-size:9px;text-anchor:end">0.00</text>
<text class="sans" x="1488.5" y="1141.2" style="font-size:9.5px">TOTAL AMOUNT</text><text class="sans" x="1663.5" y="1145.3" style="font-size:9px;text-anchor:end">17.00</text>
<text class="sans" x="1505.4" y="1153.2" style="font-size:7.5px;font-weight:bold" textLength="143">STATE OF TENNESSEE, MARION COUNTY</text>
<text class="sans" x="1515.7" y="1167" style="font-size:13px;font-weight:bold" textLength="122">WINFRED HAGGARD</text>
<text class="sans" x="1539.7" y="1175.6" style="font-size:7.5px" textLength="71">REGISTER OF DEEDS</text>
</g>
<path d="M1426.9 1168Q1428 1172 1431 1172.9L1668.6 1180.8Q1672 1180 1673.6 1177.3" class="f" stroke-width=".8"/>
<g fill="#000" transform="rotate(1 1465 1080)">
<rect x="1448" y="1020" width="34" height="2"/><rect x="1448" y="1024" width="34" height="1"/><rect x="1448" y="1027" width="34" height="3"/><rect x="1448" y="1032" width="34" height="1"/><rect x="1448" y="1035" width="34" height="1.5"/><rect x="1448" y="1039" width="34" height="3"/><rect x="1448" y="1044" width="34" height="1"/><rect x="1448" y="1047" width="34" height="2"/><rect x="1448" y="1052" width="34" height="1"/><rect x="1448" y="1055" width="34" height="1.5"/><rect x="1448" y="1059" width="34" height="2"/><rect x="1448" y="1064" width="34" height="1"/><rect x="1448" y="1067" width="34" height="1.5"/><rect x="1448" y="1071" width="34" height="1"/><rect x="1448" y="1073" width="34" height="1"/><rect x="1448" y="1076" width="34" height="1"/><rect x="1448" y="1078" width="34" height="1.5"/><rect x="1448" y="1081" width="34" height="3"/><rect x="1448" y="1085" width="34" height="3"/><rect x="1448" y="1090" width="34" height="1"/><rect x="1448" y="1093" width="34" height="1"/><rect x="1448" y="1097" width="34" height="2"/><rect x="1448" y="1101" width="34" height="1"/><rect x="1448" y="1104" width="34" height="5"/><rect x="1448" y="1110" width="34" height="1"/><rect x="1448" y="1113" width="34" height="1"/><rect x="1448" y="1118" width="34" height="1"/><rect x="1448" y="1121" width="34" height="2"/><rect x="1448" y="1126" width="34" height="1"/><rect x="1448" y="1130" width="34" height="1"/><rect x="1448" y="1134" width="34" height="2"/><rect x="1448" y="1138" width="34" height="1"/><rect x="1448" y="1140" width="34" height="1.5"/>
</g>

<!-- graphic scale -->
<text x="1705" y="1206.6" style="font-size:18px;font-style:italic" textLength="142">Graphic Scale</text>
<text x="1580" y="1226.2" style="font-size:16px;font-style:italic" textLength="36">-200</text>
<text x="1681" y="1226.2" style="font-size:16px;font-style:italic" textLength="9">0</text>
<text x="1771" y="1226.2" style="font-size:16px;font-style:italic" textLength="28">200</text>
<text x="1857.4" y="1226.2" style="font-size:16px;font-style:italic" textLength="27">400</text>
<text x="1950.8" y="1226.2" style="font-size:16px;font-style:italic" textLength="27">600</text>
<g fill="#000">
<rect x="1610.7" y="1233.5" width="19.3" height="9.3"/><rect x="1648" y="1233.5" width="18.5" height="9.3"/><rect x="1684.3" y="1233.5" width="91.7" height="9.3"/><rect x="1867" y="1233.5" width="92.5" height="9.3"/>
<rect x="1593" y="1242.8" width="19" height="9.2"/><rect x="1629" y="1242.8" width="20" height="9.2"/><rect x="1666.5" y="1242.8" width="19" height="9.2"/><rect x="1776" y="1242.8" width="91" height="9.2"/>
</g>
<rect x="1593" y="1233.5" width="366.5" height="18.5" class="f" stroke-width="1"/>

<!-- title block -->
<text class="ser hv" x="1717.4" y="1318.5" style="font-size:22px;font-style:italic" textLength="124">FINAL PLAT</text>
<path d="M1524.8 1515.5V1334.7H2027" class="f" stroke-width="2.4"/>
<path d="M1524.8 1380.5H2027M1662.4 1380.5V1426M1890.5 1380.5V1426M1524.8 1402.9H1662.4M1890.5 1402.9H2027M1524.8 1426H2027M1524.8 1471H2027M1890.5 1471V1515.5" class="f" stroke-width="1.7"/>
<text class="ser hv" x="1674.8" y="1365" style="font-size:21.5px" textLength="209">Whitmire Subdivision</text>
<text class="m" style="font-style:normal;font-size:12px" x="1528" y="1396">Scale:</text>
<text class="m" style="font-size:12px;font-weight:normal" x="1593.4" y="1396" textLength="64">1" = 200'</text>
<text class="m" style="font-style:normal;font-size:12px;font-weight:normal" x="1665.3" y="1392.6">Approved By:</text>
<text class="m" style="font-style:normal;font-size:12px;font-weight:normal" x="1893.4" y="1392.6">Drawn By:</text>
<text class="m" style="font-style:normal;font-size:12px" x="1529" y="1417.4">Date:</text>
<text class="m" style="font-size:12px;font-weight:normal" x="1595" y="1417.4" textLength="52">8/06/09</text>
<text x="1543.4" y="1456.3" style="font-size:21.4px;font-style:italic" textLength="244">5th Civil District</text>
<text x="1543.4" y="1502.7" style="font-size:22.7px;font-style:italic" textLength="328">Marion County, Tennessee</text>
<text x="1893.8" y="1481" style="font-size:9.5px;font-weight:bold" textLength="76">Drawing Number</text>
<text x="1925.6" y="1502" style="font-size:12px;font-style:italic;font-weight:bold" textLength="51">6963-09</text>

<!-- line table -->
<path d="M747.9 1170H933.6V1499H747.9ZM782.2 1170V1499M871.5 1170V1499M747.9 1183.3H933.6M747.9 1197H933.6M747.9 1210.8H933.6M747.9 1224.5H933.6M747.9 1238.2H933.6M747.9 1252H933.6M747.9 1265.7H933.6M747.9 1279.4H933.6M747.9 1293.1H933.6M747.9 1306.9H933.6M747.9 1320.6H933.6M747.9 1334.3H933.6M747.9 1348H933.6M747.9 1361.8H933.6M747.9 1375.5H933.6M747.9 1389.2H933.6M747.9 1402.9H933.6M747.9 1416.7H933.6M747.9 1430.4H933.6M747.9 1444.1H933.6M747.9 1457.9H933.6M747.9 1471.6H933.6M747.9 1485.3H933.6" class="f" stroke-width="1.5"/>
<g>
<text class="t" x="765" y="1181" text-anchor="middle">LINE</text><text class="t" x="827" y="1181" text-anchor="middle">BEARING</text><text class="t" x="903" y="1181" text-anchor="middle">DISTANCE</text>
<text class="t" x="780" y="1194.5" text-anchor="end">L1</text><text class="t" x="870" y="1194.5" text-anchor="end">N16°38'42"W</text><text class="t" x="931" y="1194.5" text-anchor="end">53.50ft</text>
<text class="t" x="780" y="1208.2" text-anchor="end">L2</text><text class="t" x="870" y="1208.2" text-anchor="end">N16°38'42"W</text><text class="t" x="931" y="1208.2" text-anchor="end">53.50ft</text>
<text class="t" x="780" y="1222" text-anchor="end">L3</text><text class="t" x="870" y="1222" text-anchor="end">N17°02'15"W</text><text class="t" x="931" y="1222" text-anchor="end">53.55ft</text>
<text class="t" x="780" y="1235.7" text-anchor="end">L4</text><text class="t" x="870" y="1235.7" text-anchor="end">N18°23'24"W</text><text class="t" x="931" y="1235.7" text-anchor="end">106.34ft</text>
<text class="t" x="780" y="1249.4" text-anchor="end">L5</text><text class="t" x="870" y="1249.4" text-anchor="end">N20°09'15"W</text><text class="t" x="931" y="1249.4" text-anchor="end">108.53ft</text>
<text class="t" x="780" y="1263.2" text-anchor="end">L6</text><text class="t" x="870" y="1263.2" text-anchor="end">S34°37'15"E</text><text class="t" x="931" y="1263.2" text-anchor="end">92.31ft</text>
<text class="t" x="780" y="1276.9" text-anchor="end">L7</text><text class="t" x="870" y="1276.9" text-anchor="end">S31°44'17"W</text><text class="t" x="931" y="1276.9" text-anchor="end">67.01ft</text>
<text class="t" x="780" y="1290.6" text-anchor="end">L8</text><text class="t" x="870" y="1290.6" text-anchor="end">S49°58'56"W</text><text class="t" x="931" y="1290.6" text-anchor="end">45.72ft</text>
<text class="t" x="780" y="1304.3" text-anchor="end">L9</text><text class="t" x="870" y="1304.3" text-anchor="end">S20°11'23"W</text><text class="t" x="931" y="1304.3" text-anchor="end">87.75ft</text>
<text class="t" x="780" y="1318.1" text-anchor="end">L10</text><text class="t" x="870" y="1318.1" text-anchor="end">S19°00'01"W</text><text class="t" x="931" y="1318.1" text-anchor="end">44.29ft</text>
<text class="t" x="780" y="1331.8" text-anchor="end">L11</text><text class="t" x="870" y="1331.8" text-anchor="end">S77°24'28"W</text><text class="t" x="931" y="1331.8" text-anchor="end">79.99ft</text>
<text class="t" x="780" y="1345.5" text-anchor="end">L12</text><text class="t" x="870" y="1345.5" text-anchor="end">S28°19'03"W</text><text class="t" x="931" y="1345.5" text-anchor="end">50.05ft</text>
<text class="t" x="780" y="1359.2" text-anchor="end">L13</text><text class="t" x="870" y="1359.2" text-anchor="end">S3°51'19"W</text><text class="t" x="931" y="1359.2" text-anchor="end">80.33ft</text>
<text class="t" x="780" y="1373" text-anchor="end">L14</text><text class="t" x="870" y="1373" text-anchor="end">S53°41'38"W</text><text class="t" x="931" y="1373" text-anchor="end">84.83ft</text>
<text class="t" x="780" y="1386.7" text-anchor="end">L15</text><text class="t" x="870" y="1386.7" text-anchor="end">S12°13'05"W</text><text class="t" x="931" y="1386.7" text-anchor="end">120.47ft</text>
<text class="t" x="780" y="1400.4" text-anchor="end">L16</text><text class="t" x="870" y="1400.4" text-anchor="end">S8°19'35"E</text><text class="t" x="931" y="1400.4" text-anchor="end">16.49ft</text>
<text class="t" x="780" y="1414.1" text-anchor="end">L17</text><text class="t" x="870" y="1414.1" text-anchor="end">S8°19'35"E</text><text class="t" x="931" y="1414.1" text-anchor="end">27.31ft</text>
<text class="t" x="780" y="1427.9" text-anchor="end">L18</text><text class="t" x="870" y="1427.9" text-anchor="end">S59°04'39"E</text><text class="t" x="931" y="1427.9" text-anchor="end">83.43ft</text>
<text class="t" x="780" y="1441.6" text-anchor="end">L19</text><text class="t" x="870" y="1441.6" text-anchor="end">S11°06'06"W</text><text class="t" x="931" y="1441.6" text-anchor="end">41.53ft</text>
<text class="t" x="780" y="1455.3" text-anchor="end">L20</text><text class="t" x="870" y="1455.3" text-anchor="end">S15°57'22"W</text><text class="t" x="931" y="1455.3" text-anchor="end">139.79ft</text>
<text class="t" x="780" y="1469.1" text-anchor="end">L21</text><text class="t" x="870" y="1469.1" text-anchor="end">S17°01'01"E</text><text class="t" x="931" y="1469.1" text-anchor="end">37.22ft</text>
<text class="t" x="780" y="1482.8" text-anchor="end">L22</text><text class="t" x="870" y="1482.8" text-anchor="end">S80°14'10"W</text><text class="t" x="931" y="1482.8" text-anchor="end">105.94ft</text>
<text class="t" x="780" y="1496.5" text-anchor="end">L23</text><text class="t" x="870" y="1496.5" text-anchor="end">S17°25'41"W</text><text class="t" x="931" y="1496.5" text-anchor="end">73.27ft</text>
</g>

<!-- notes -->
<g>
<text class="t" x="1050" y="1210.7">* Notes :</text>
<text class="t" x="1050" y="1238.3">1.</text><text class="t" x="1084" y="1238.3">Owner: John Whitmire</text>
<text class="t" x="1131.8" y="1252">6737 C Ringgold Road</text>
<text class="t" x="1131.8" y="1265.7">East Ridge, TN 37412</text>
<text class="t" x="1050" y="1279.7">2.</text><text class="t" x="1084" y="1279.7">Area Subdivided: 41.42 Acres</text>
<text class="t" x="1050" y="1293.3">3.</text><text class="t" x="1084" y="1293.3">Zoning: R-1</text>
<text class="t" x="1050" y="1307">4.</text><text class="t" x="1084" y="1307">Property does not lie within the 100 Year Flood</text>
<text class="t" x="1084" y="1321">Zone as per Fema Map Panel 470309-0080.</text>
<text class="t" x="1050" y="1334.7">5.</text><text class="t" x="1084" y="1334.7">Setbacks = 30' Front, 20' Rear, 15' Side</text>
<text class="t" x="1050" y="1348.3">6.</text><text class="t" x="1084" y="1348.3">All Lot Lines Have 10' Drainage &amp;</text>
<text class="t" x="1084" y="1362">Utility Easements.</text>
<text class="t" x="1050" y="1375.7">7.</text><text class="t" x="1084" y="1375.7">Water By: City of Monteagle</text>
<text class="t" x="1050" y="1389.3">8.</text><text class="t" x="1084" y="1389.3">Sewer By: Individual Septic Tank</text>
<text class="t" x="1050" y="1403">9.</text><text class="t" x="1084" y="1403">Tax Map 40 Parcels 17.17 &amp; 17.20</text>
<text class="t" x="1050" y="1416.7">10.</text><text class="t" x="1085" y="1416.7">This Plat subdivides Property of Record</text>
<text class="t" x="1084" y="1430.3">described in Deed Book 284 Page 76 &amp;</text>
<text class="t" x="1084" y="1444">in Deed Book 286 Page 751.</text>
</g>
</svg>
</body></html>
